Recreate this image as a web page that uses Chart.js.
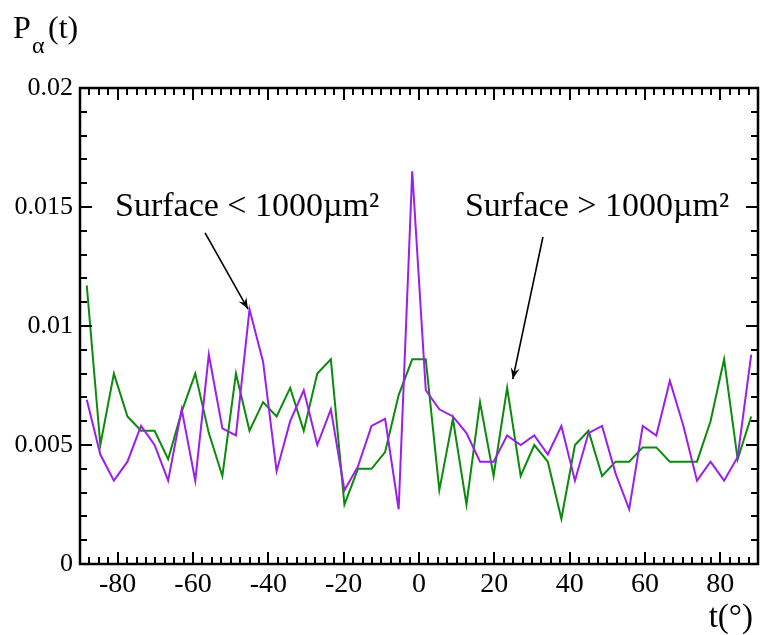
<!DOCTYPE html>
<html>
<head>
<meta charset="utf-8">
<script src="https://cdn.jsdelivr.net/npm/chart.js@4/dist/chart.umd.min.js"></script>
<style>
html,body{margin:0;padding:0;background:#fff;}
#wrap{position:relative;width:760px;height:635px;}
</style>
</head>
<body>
<div id="wrap"><canvas id="c" width="760" height="635"></canvas></div>
<script>
// Bin centres (degrees)
const angles = [-88.2,-84.6,-81,-77.4,-73.8,-70.2,-66.6,-63,-59.4,-55.8,-52.2,-48.6,-45,-41.4,-37.8,-34.2,-30.6,-27,-23.4,-19.8,-16.2,-12.6,-9,-5.4,-1.8,1.8,5.4,9,12.6,16.2,19.8,23.4,27,30.6,34.2,37.8,41.4,45,48.6,52.2,55.8,59.4,63,66.6,70.2,73.8,77.4,81,84.6,88.2];
// Surface < 1000 µm² (purple)
const smallSurface = [0.0069,0.0046,0.0035,0.0043,0.0058,0.0050,0.0035,0.0065,0.0035,0.0088,
  0.0057,0.0054,0.0107,0.0085,0.0039,0.0060,0.0073,0.0050,0.0065,0.0031,
  0.0041,0.0058,0.0061,0.0023,0.0165,0.0073,0.0065,0.0062,0.0055,0.0043,
  0.0043,0.0054,0.0050,0.0054,0.0046,0.0058,0.0035,0.0055,0.0058,0.0038,
  0.0023,0.0058,0.0054,0.0077,0.0058,0.0035,0.0043,0.0035,0.0045,0.0088];
// Surface > 1000 µm² (green)
const largeSurface = [0.0117,0.0050,0.0080,0.0062,0.0056,0.0056,0.0044,0.0064,0.0080,0.0055,
  0.0037,0.0080,0.0056,0.0068,0.0062,0.0074,0.0056,0.0080,0.0086,0.0025,
  0.0040,0.0040,0.0047,0.0071,0.0086,0.0086,0.0031,0.0061,0.0025,0.0068,
  0.0037,0.0074,0.0037,0.0050,0.0043,0.0019,0.0050,0.0056,0.0037,0.0043,
  0.0043,0.0049,0.0049,0.0043,0.0043,0.0043,0.0060,0.0086,0.0044,0.0062];
const xTickLabels = [-80,-60,-40,-20,0,20,40,60,80];
const yTickLabels = [0,0.005,0.01,0.015,0.02];

const SERIF = '"Liberation Serif", "Times New Roman", serif';

const annotations = [
  {text:'Surface < 1000\u00B5m\u00B2', x:-80.7, y:0.01461, ax0:-56.8, ay0:0.01391, ax1:-45.4, ay1:0.01071},
  {text:'Surface > 1000\u00B5m\u00B2', x:12.2, y:0.01461, ax0:32.9, ay0:0.01374, ax1:24.9, ay1:0.00777}
];

const framePlugin = {
  id:'frame',
  afterDatasetsDraw(chart){
    const ctx = chart.ctx, a = chart.chartArea;
    const xs = chart.scales.x, ys = chart.scales.y;
    ctx.save();
    ctx.strokeStyle = '#000';
    // minor / major ticks on x (bottom & top), inward
    ctx.lineWidth = 2;
    for (let v = -90; v <= 90.001; v += 2.5) {
      const px = Math.round(xs.getPixelForValue(v));
      const major = Math.abs(v % 20) < 1e-6 && Math.abs(v) < 90;
      const len = major ? 12 : 7;
      ctx.beginPath();
      ctx.moveTo(px, a.bottom); ctx.lineTo(px, a.bottom - len);
      ctx.moveTo(px, a.top); ctx.lineTo(px, a.top + len);
      ctx.stroke();
    }
    for (let i = 0; i <= 20; i++) {
      const v = i * 0.001;
      const py = Math.round(ys.getPixelForValue(v));
      const major = i % 5 === 0;
      const len = major ? 12 : 7;
      ctx.beginPath();
      ctx.moveTo(a.left, py); ctx.lineTo(a.left + len, py);
      ctx.moveTo(a.right, py); ctx.lineTo(a.right - len, py);
      ctx.stroke();
    }
    ctx.lineWidth = 2.5;
    ctx.strokeRect(a.left, a.top, a.right - a.left, a.bottom - a.top);

    // annotations
    ctx.fillStyle = '#000';
    ctx.font = '34px ' + SERIF;
    ctx.textAlign = 'left';
    ctx.textBaseline = 'alphabetic';
    annotations.forEach(an => {
      ctx.fillText(an.text, xs.getPixelForValue(an.x), ys.getPixelForValue(an.y));
      const x0 = xs.getPixelForValue(an.ax0), y0 = ys.getPixelForValue(an.ay0);
      const x1 = xs.getPixelForValue(an.ax1), y1 = ys.getPixelForValue(an.ay1);
      ctx.lineWidth = 1.6;
      ctx.beginPath(); ctx.moveTo(x0, y0); ctx.lineTo(x1, y1); ctx.stroke();
      const ang = Math.atan2(y1 - y0, x1 - x0);
      const L = 12, W = 0.38;
      ctx.beginPath();
      ctx.moveTo(x1, y1);
      ctx.lineTo(x1 - L*Math.cos(ang - W), y1 - L*Math.sin(ang - W));
      ctx.lineTo(x1 - L*0.6*Math.cos(ang), y1 - L*0.6*Math.sin(ang));
      ctx.lineTo(x1 - L*Math.cos(ang + W), y1 - L*Math.sin(ang + W));
      ctx.closePath(); ctx.fill();
    });

    // axis titles
    ctx.font = '32px ' + SERIF;
    ctx.textAlign = 'left';
    ctx.fillText('P', 13, 38);
    ctx.font = '24px ' + SERIF;
    ctx.fillText('\u03B1', 32, 53);
    ctx.font = '32px ' + SERIF;
    ctx.fillText('(t)', 48, 38);
    ctx.textAlign = 'right';
    ctx.font = '33px ' + SERIF;
    ctx.fillText('t(\u00B0)', 753, 627);
    ctx.restore();
  }
};

new Chart(document.getElementById('c'), {
  type: 'line',
  data: {
    datasets: [
      {label:'Surface < 1000\u00B5m\u00B2', data: angles.map((t,i)=>({x:t,y:smallSurface[i]})),
       borderColor:'#9B1FE8', borderWidth:2, pointRadius:0, tension:0, fill:false},
      {label:'Surface > 1000\u00B5m\u00B2', data: angles.map((t,i)=>({x:t,y:largeSurface[i]})),
       borderColor:'#0B8A0B', borderWidth:2, pointRadius:0, tension:0, fill:false}
    ]
  },
  options: {
    responsive:false,
    animation:false,
    events:[],
    layout:{padding:{top:88, right:2, left:0, bottom:0}},
    plugins:{legend:{display:false}, tooltip:{enabled:false}},
    scales:{
      x:{type:'linear', min:-90, max:90,
         afterBuildTicks(s){ s.ticks = xTickLabels.map(v=>({value:v})); },
         afterFit(s){ s.height = 71; },
         grid:{display:false, drawTicks:false},
         border:{display:false},
         ticks:{font:{family:SERIF, size:28}, color:'#000', padding:4, maxRotation:0, autoSkip:false}},
      y:{type:'linear', min:0, max:0.02,
         afterBuildTicks(s){ s.ticks = yTickLabels.map(v=>({value:v})); },
         afterFit(s){ s.width = 80; },
         grid:{display:false, drawTicks:false},
         border:{display:false},
         ticks:{font:{family:SERIF, size:26}, color:'#000', padding:7,
                callback:(v)=>String(+(+v).toFixed(3))}}
    }
  },
  plugins:[framePlugin]
});
</script>
</body>
</html>
